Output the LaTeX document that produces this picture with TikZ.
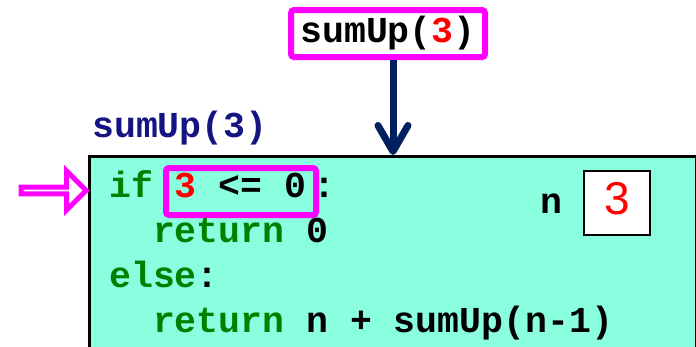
\documentclass[tikz,border=0pt]{standalone}
\usepackage{fontspec}
\setmonofont{Liberation Mono}
\newfontfamily\valfont{Liberation Sans}
\usetikzlibrary{arrows.meta,shapes.arrows}
\definecolor{hlpink}{RGB}{255,0,255}
\definecolor{kwgreen}{RGB}{0,128,0}
\definecolor{callnavy}{RGB}{0,32,96}
\definecolor{lblnavy}{RGB}{20,20,130}
\definecolor{framefill}{RGB}{138,255,224}
\newcommand{\codefont}{\ttfamily\bfseries\fontsize{36.5}{40}\selectfont}
\tikzset{
  code/.style={anchor=base west, inner sep=0pt, font=\codefont},
  hlbox/.style={draw=hlpink, line width=6pt, rounded corners=3pt},
  framebox/.style={draw=black, line width=2.5pt, fill=framefill, anchor=north west},
  valbox/.style={draw=black, line width=1.2pt, fill=white, minimum width=66pt, minimum height=64pt, inner sep=0pt}
}
\begin{document}
\begin{tikzpicture}[x=1pt,y=-1pt]
  \useasboundingbox (0,0) rectangle (696,346);
  \clip (0,0) rectangle (696,346);

  \node[framebox, minimum width=607pt, minimum height=230pt] (frame) at (88,155) {};
  \node[code, lblnavy] (lbl) at (92,137) {sumUp(3)};

  \node[hlbox, fill=white, minimum width=194pt, minimum height=47pt, inner sep=0pt, font=\codefont] (call) at (388,33.5) {sumUp(\textcolor{red}{3})};
  \draw[callnavy, line width=7pt, -{Straight Barb[length=26pt, width=30pt, round]}]
    ([xshift=5pt]call.south) -- ([xshift=5pt]call.south |- frame.north);

  \node[single arrow, draw=hlpink, fill=white, line width=5pt, inner sep=0pt,
    minimum height=65pt, minimum width=39pt, single arrow head extend=12pt] (ptr) at (52,190.5) {};

  \node[hlbox, minimum width=150pt, minimum height=47pt] (cond) at (241,191.5) {};
  \node[code, kwgreen] (line1) at (109,197) {if \textcolor{black}{\textcolor{red}{3} <= 0\hspace{7pt}:}};
  \node[code, kwgreen] (line2) at (152.8,242) {return \textcolor{black}{0}};
  \node[code, kwgreen] (line3) at (109,287) {else\textcolor{black}{:}};
  \node[code, kwgreen] (line4) at (152.8,332) {return \textcolor{black}{n + sumUp(n-1)}};

  \node[code] (nlbl) at (540,213) {n};
  \node[valbox, text depth=9pt, font=\valfont\fontsize{46}{50}\selectfont, text=red] (nval) at (617,203) {3};
\end{tikzpicture}
\end{document}
